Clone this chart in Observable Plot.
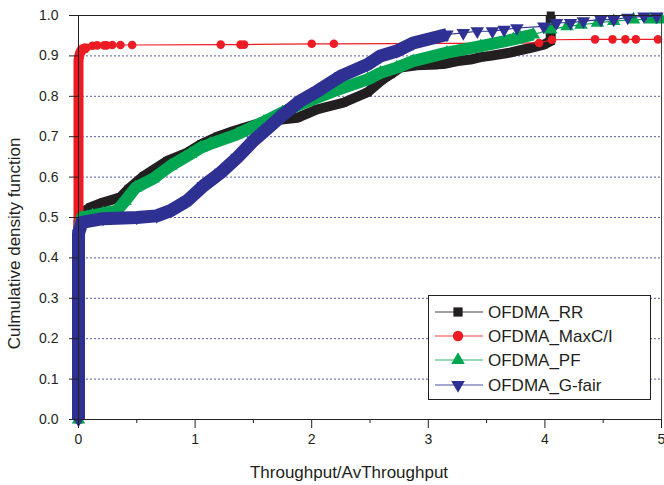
<!DOCTYPE html>
<html>
<head>
<meta charset="utf-8">
<script src="https://cdn.jsdelivr.net/npm/d3@7"></script>
<script src="https://cdn.jsdelivr.net/npm/@observablehq/plot@0.6"></script>
<style>
  body { margin: 0; background: #fff; }
  #wrap { position: relative; width: 664px; height: 485px; font-family: "Liberation Sans", Arial, Helvetica, sans-serif; }
  #legend { position: absolute; left: 428px; top: 295px; }
</style>
</head>
<body>
<div id="wrap"></div>
<script>
// ---- Data ----
const xTicks = [0, 1, 2, 3, 4, 5];
const xMinorTicks = [0.5, 1.5, 2.5, 3.5, 4.5];
const yTicks = [0, 0.1, 0.2, 0.3, 0.4, 0.5, 0.6, 0.7, 0.8, 0.9, 1.0];
const gridValues = [0.1, 0.2, 0.3, 0.4, 0.5, 0.6, 0.7, 0.8, 0.9];

const seriesNames = ["OFDMA_RR", "OFDMA_MaxC/I", "OFDMA_PF", "OFDMA_G-fair"];

const rrX = [0, 0, 0.02, 0.1, 0.21, 0.36, 0.43, 0.56, 0.76, 0.93, 1.05, 1.19, 1.33, 1.42, 1.62, 1.88, 2.05, 2.27, 2.48, 2.6, 2.68, 2.76, 2.9, 3.08, 3.13, 3.25, 3.36, 3.45, 3.53, 3.7, 3.79, 3.88, 3.99, 4.05, 4.05];
const rrY = [0, 0.49, 0.51, 0.525, 0.537, 0.55, 0.571, 0.603, 0.64, 0.66, 0.681, 0.70, 0.714, 0.722, 0.739, 0.747, 0.768, 0.784, 0.81, 0.84, 0.855, 0.871, 0.877, 0.879, 0.88, 0.887, 0.891, 0.897, 0.90, 0.908, 0.914, 0.92, 0.928, 0.937, 1.0];

const maxX = [0, 0, 0.01, 0.03, 0.07, 0.12, 0.16, 0.22, 0.24, 0.29, 0.36, 0.46, 1.22, 1.39, 1.42, 2.0, 2.19, 3.95, 4.06, 4.43, 4.58, 4.69, 4.78, 4.97];
const maxY = [0, 0.89, 0.905, 0.916, 0.92, 0.925, 0.926, 0.926, 0.926, 0.927, 0.927, 0.927, 0.928, 0.928, 0.928, 0.93, 0.93, 0.932, 0.94, 0.941, 0.941, 0.941, 0.941, 0.941];

const pfX = [0, 0, 0.03, 0.12, 0.21, 0.33, 0.40, 0.49, 0.64, 0.79, 0.96, 1.05, 1.13, 1.36, 1.59, 1.75, 1.90, 2.19, 2.48, 2.59, 2.73, 2.87, 3.16, 3.45, 3.73, 3.79, 3.90, 4.05, 4.19, 4.31, 4.45, 4.59, 4.76, 4.91, 5.0];
const pfY = [0, 0.46, 0.50, 0.505, 0.51, 0.517, 0.541, 0.574, 0.596, 0.628, 0.657, 0.673, 0.682, 0.706, 0.737, 0.76, 0.78, 0.813, 0.842, 0.858, 0.871, 0.887, 0.908, 0.924, 0.941, 0.945, 0.953, 0.965, 0.973, 0.977, 0.982, 0.986, 0.99, 0.99, 0.99];

const gfX = [0, 0, 0.03, 0.21, 0.50, 0.67, 0.79, 0.93, 1.07, 1.22, 1.36, 1.50, 1.62, 1.76, 1.90, 2.05, 2.25, 2.48, 2.59, 2.73, 2.87, 3.16, 3.30, 3.42, 3.55, 3.65, 3.76, 3.99, 4.10, 4.22, 4.33, 4.48, 4.59, 4.71, 4.85, 4.96];
const gfY = [0, 0.46, 0.488, 0.497, 0.50, 0.504, 0.517, 0.541, 0.578, 0.611, 0.648, 0.69, 0.72, 0.756, 0.788, 0.813, 0.85, 0.879, 0.90, 0.912, 0.932, 0.953, 0.957, 0.961, 0.961, 0.965, 0.969, 0.973, 0.982, 0.982, 0.986, 0.99, 0.99, 0.995, 0.998, 0.998];

// ---- Styles ----
const series = [
  {name: seriesNames[0], xs: rrX, ys: rrY, color: "#231f20", symbol: "square",   r: 4.5, rotate: 0,   band: 10, cut: 5},
  {name: seriesNames[1], xs: maxX, ys: maxY, color: "#ed1c24", symbol: "circle",  r: 4.3, rotate: 0,   band: 10, cut: 0.07},
  {name: seriesNames[2], xs: pfX, ys: pfY, color: "#00a651", symbol: "triangle",  r: 5,   rotate: 0,   band: 12, cut: 4.0},
  {name: seriesNames[3], xs: gfX, ys: gfY, color: "#2e3192", symbol: "triangle",  r: 5,   rotate: 180, band: 13, cut: 3.2}
];

const marks = [];
marks.push(Plot.ruleY(gridValues, {stroke: "#2e3192", strokeWidth: 1, strokeDasharray: "2,2", strokeOpacity: 0.8}));

for (const s of series) {
  const data = s.xs.map((x, i) => ({x, y: s.ys[i]}));
  marks.push(Plot.line(data.filter(d => d.x <= s.cut), {x: "x", y: "y", stroke: s.color, strokeWidth: s.band, strokeLinejoin: "round", strokeLinecap: "butt"}));
  marks.push(Plot.line(data, {x: "x", y: "y", stroke: s.color, strokeWidth: 1.2}));
  marks.push(Plot.dot(data, {x: "x", y: "y", symbol: s.symbol, r: s.r, fill: s.color, stroke: "none", rotate: s.rotate}));
}

// frame and axes
marks.push(Plot.ruleY([1], {stroke: "#231f20", strokeWidth: 1}));
marks.push(Plot.ruleX([5], {stroke: "#444", strokeWidth: 1}));
marks.push(Plot.ruleY([0], {stroke: "#231f20", strokeWidth: 1}));
marks.push(Plot.ruleX([0], {stroke: "#231f20", strokeWidth: 1}));
marks.push(Plot.axisY({ticks: yTicks, tickSize: 9, tickPadding: 11, tickFormat: d3.format(".1f"), fontSize: 14, label: null, stroke: "#231f20"}));
marks.push(Plot.axisX({ticks: xTicks, tickSize: 9, tickPadding: 6, tickFormat: d3.format("d"), fontSize: 14, label: null, stroke: "#231f20"}));
marks.push(Plot.axisX({ticks: xMinorTicks, tickSize: 4, tickFormat: () => "", label: null, stroke: "#231f20"}));

const chart = Plot.plot({
  width: 664,
  height: 485,
  marginLeft: 78,
  marginRight: 3,
  marginTop: 15,
  marginBottom: 66,
  x: {domain: [0, 5]},
  y: {domain: [0, 1]},
  style: {fontFamily: "'Liberation Sans', Arial, Helvetica, sans-serif", background: "white", color: "#231f20", overflow: "visible"},
  marks
});

const svg = d3.select(chart);
svg.append("text")
  .attr("x", 349).attr("y", 478)
  .attr("text-anchor", "middle")
  .attr("font-size", 17).attr("fill", "#231f20")
  .text("Throughput/AvThroughput");
svg.append("text")
  .attr("transform", "translate(20,243.5) rotate(-90)")
  .attr("text-anchor", "middle")
  .attr("font-size", 17).attr("fill", "#231f20")
  .text("Culmulative density function");

const wrap = document.getElementById("wrap");
wrap.appendChild(chart);

// ---- Legend ----
const lg = d3.select(wrap).append("svg")
  .attr("id", "legend")
  .attr("width", 224).attr("height", 106);
lg.append("rect").attr("x", 0.5).attr("y", 0.5).attr("width", 222).attr("height", 104)
  .attr("fill", "white").attr("stroke", "#231f20").attr("stroke-width", 1);
const rowY = [17, 41, 65, 90];
series.forEach((s, i) => {
  const g = lg.append("g").attr("transform", `translate(0,${rowY[i]})`);
  g.append("line").attr("x1", 7).attr("x2", 55).attr("y1", 0).attr("y2", 0)
    .attr("stroke", s.color).attr("stroke-width", 1.2).attr("stroke-opacity", 0.85);
  const symType = s.symbol === "square" ? d3.symbolSquare : s.symbol === "circle" ? d3.symbolCircle : d3.symbolTriangle;
  const size = s.symbol === "triangle" ? 80 : 85;
  g.append("path")
    .attr("d", d3.symbol(symType, size)())
    .attr("transform", `translate(30,0) rotate(${s.rotate})`)
    .attr("fill", s.color);
  g.append("text").attr("x", 60).attr("y", 0).attr("dy", "0.35em")
    .attr("font-size", 17).attr("fill", "#231f20")
    .attr("font-family", "'Liberation Sans', Arial, Helvetica, sans-serif")
    .text(s.name);
});
</script>
</body>
</html>
